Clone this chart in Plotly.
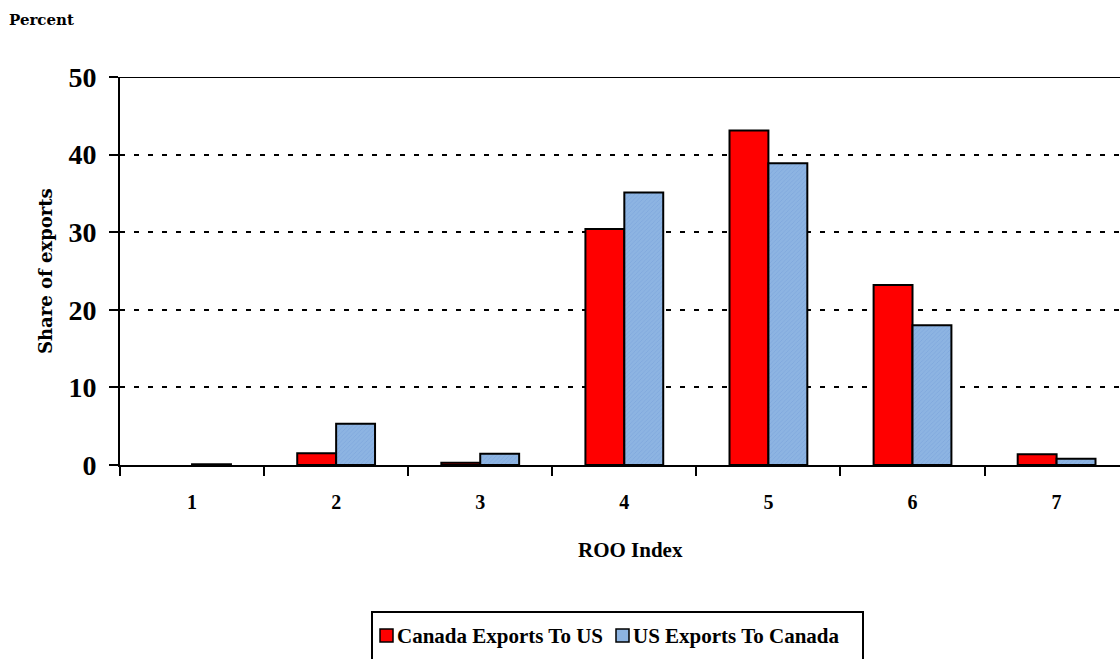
import plotly.graph_objects as go

# ROO index categories and shares of exports (percent)
roo_index = ["1", "2", "3", "4", "5", "6", "7"]
canada_to_us = [None, 1.5, 0.3, 30.4, 43.1, 23.2, 1.4]
us_to_canada = [0.1, 5.3, 1.45, 35.1, 38.9, 18.0, 0.8]
y_ticks = [0, 10, 20, 30, 40, 50]
series_names = ["Canada Exports To US", "US Exports To Canada"]
series_colors = ["#ff0000", "#8db4e2"]

SERIF = "Liberation Serif"
WIDE_SERIF = "DejaVu Serif"

# Plot-area geometry in pixels, used to place the boxed legend below the axis
W, H = 1120, 659
L, R, T, B = 120, 0, 77, 194
PW, PH = W - L - R, H - T - B


def px_x(px):
    return (px - L) / PW


def px_y(py):
    return (H - B - py) / PH


blue_pattern = dict(shape="/", size=3, solidity=0.25, fgcolor="#6f9ad6",
                    fillmode="overlay")

fig = go.Figure()
fig.add_trace(go.Bar(
    x=roo_index, y=canada_to_us, name=series_names[0],
    marker=dict(color=series_colors[0], line=dict(color="black", width=2)),
))
fig.add_trace(go.Bar(
    x=roo_index, y=us_to_canada, name=series_names[1],
    marker=dict(color=series_colors[1], line=dict(color="black", width=2),
                pattern=blue_pattern),
))

# Boxed legend: frame, two swatches and their labels
shapes = [
    dict(type="line", xref="paper", yref="y", x0=0, x1=1, y0=50, y1=50,
         line=dict(color="black", width=2)),
    dict(type="rect", xref="paper", yref="paper",
         x0=px_x(372), x1=px_x(863), y0=px_y(612), y1=px_y(700),
         line=dict(color="black", width=2), fillcolor="white", layer="below"),
]
annotations = []
swatch_left = [380, 616]
for name, color, sx in zip(series_names, series_colors, swatch_left):
    shapes.append(dict(type="rect", xref="paper", yref="paper",
                       x0=px_x(sx), x1=px_x(sx + 13), y0=px_y(629), y1=px_y(642),
                       line=dict(color="black", width=1.5), fillcolor=color))
    annotations.append(dict(text=name, xref="paper", yref="paper",
                            x=px_x(sx + 15), y=px_y(636),
                            xanchor="left", yanchor="middle", showarrow=False,
                            font=dict(family=SERIF, size=21, color="black",
                                      weight="bold")))

annotations += [
    dict(text="Percent", xref="paper", yref="paper", x=px_x(7), y=px_y(20),
         xanchor="left", yanchor="middle", showarrow=False,
         font=dict(family=WIDE_SERIF, size=15, color="black", weight="bold")),
    dict(text="Share of exports", xref="paper", yref="paper", x=px_x(45), y=0.5,
         xanchor="center", yanchor="middle", textangle=-90, showarrow=False,
         font=dict(family=WIDE_SERIF, size=18, color="black", weight="bold")),
    dict(text="ROO Index", xref="paper", yref="paper", x=px_x(630), y=px_y(550),
         xanchor="center", yanchor="middle", showarrow=False,
         font=dict(family=SERIF, size=21, color="black", weight="bold")),
]

fig.update_layout(
    width=W, height=H,
    margin=dict(l=L, r=R, t=T, b=B),
    paper_bgcolor="white", plot_bgcolor="white",
    barmode="group", bargap=0.46, bargroupgap=0,
    font=dict(family=SERIF, color="black"),
    showlegend=False,
    xaxis=dict(
        type="category", range=[-0.5, 6.44],
        showline=True, linecolor="black", linewidth=2,
        ticks="outside", ticklen=9, tickwidth=2, tickcolor="black",
        tickson="boundaries", showgrid=False,
        tickfont=dict(family=SERIF, size=20, color="black", weight="bold"),
        ticklabelstandoff=18,
    ),
    yaxis=dict(
        range=[0, 50], tickvals=y_ticks,
        showline=True, linecolor="black", linewidth=2,
        ticks="outside", ticklen=9, tickwidth=2, tickcolor="black",
        tickfont=dict(family=SERIF, size=28, color="black", weight="bold"),
        ticklabelstandoff=7,
        showgrid=True, gridcolor="black", gridwidth=2, griddash="5px,9px",
        zeroline=False,
    ),
    shapes=shapes,
    annotations=annotations,
)

fig.write_html("out.html")
